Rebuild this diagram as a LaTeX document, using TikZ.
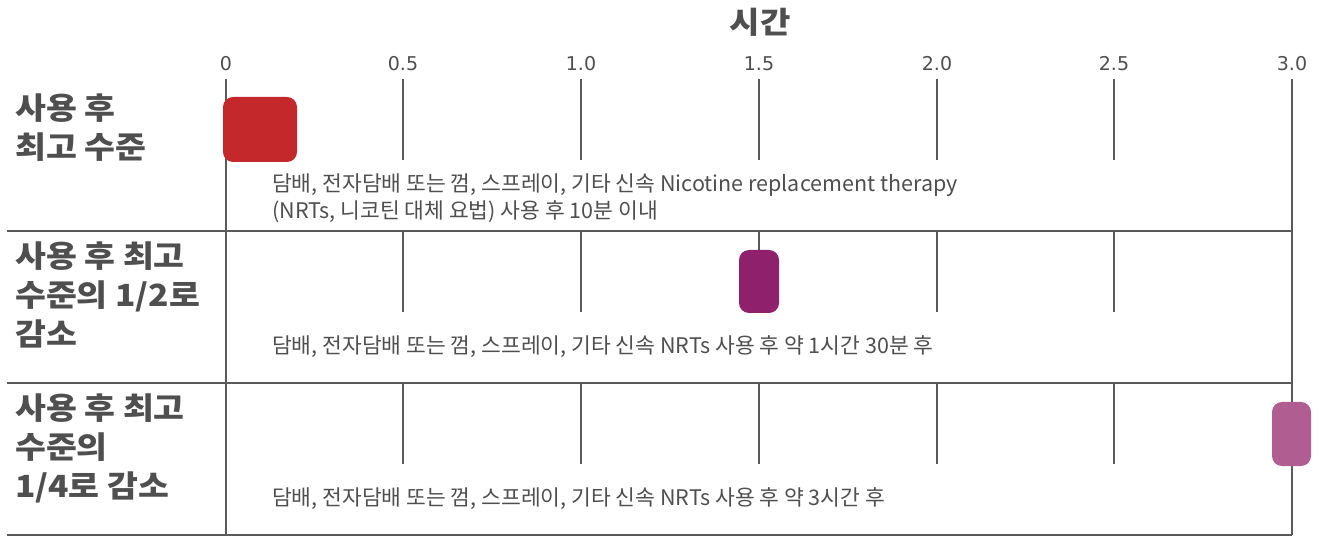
\documentclass[tikz,border=0pt]{standalone}
\usepackage{fontspec}
\setmainfont{Noto Sans CJK KR}
\newfontfamily\descfont{Noto Sans CJK KR}
\newfontfamily\labelfont{Noto Sans CJK KR}[FakeStretch=1.1]
\newfontfamily\numfont{DejaVu Sans}
\definecolor{gridgray}{HTML}{5A5A5A}
\definecolor{txtgray}{HTML}{4F4F4F}
\definecolor{peakred}{HTML}{C4282A}
\definecolor{halfpurple}{HTML}{8E206C}
\definecolor{quarterpink}{HTML}{B05E91}
\tikzset{
  gridline/.style={draw=gridgray, line width=2.6pt},
  ticklabel/.style={font=\numfont\fontsize{19}{22}\selectfont, text=txtgray, inner sep=0pt},
  rowlabel/.style={font=\labelfont\bfseries\fontsize{30.5}{39}\selectfont, text=txtgray, anchor=west, align=left, inner sep=0pt},
  desc/.style={font=\descfont\fontsize{21.5}{27}\selectfont, text=txtgray, anchor=west, align=left, inner sep=0pt},
  level/.style={rounded corners=10pt, inner sep=0pt},
}
\begin{document}
\begin{tikzpicture}[x=1pt,y=-1pt]
\useasboundingbox[fill=white] (0,0) rectangle (1318,537);
% short tick lines
\foreach \x in {403,581,759,937,1114}{
  \draw[gridline] (\x,79) -- (\x,160);
  \draw[gridline] (\x,231) -- (\x,312);
  \draw[gridline] (\x,383) -- (\x,464);
}
\draw[gridline] (226,79) -- (226,535);
\draw[gridline] (1292,79) -- (1292,535);
\draw[gridline] (7,231) -- (1292,231);
\draw[gridline] (7,383) -- (1292,383);
\draw[gridline] (7,535) -- (1292,535);
% title and tick labels
\node[font=\labelfont\bfseries\fontsize{30}{34}\selectfont, text=txtgray] (title) at (760,22) {시간};
\foreach \n/\x/\t in {a/226/0,b/403/0.5,c/581/1.0,d/759/1.5,e/937/2.0,f/1114/2.5,g/1292/3.0}{
  \node[ticklabel] (tick\n) at (\x,64) {\t};
}
% level markers
\fill[level, peakred] (223,97) rectangle (297,162);
\fill[level, halfpurple] (739,250) rectangle (779,313);
\fill[level, quarterpink] (1272,402) rectangle (1311,466);
% row labels
\node[rowlabel] (row1) at (15,128) {사용 후\\최고 수준};
\node[rowlabel] (row2) at (15,295) {사용 후 최고\\수준의 1/2로\\감소};
\node[rowlabel] (row3) at (15,448) {사용 후 최고\\수준의\\1/4로 감소};
% descriptions
\node[desc] (desc1) at (272,198.5) {담배, 전자담배 또는 껌, 스프레이, 기타 신속 Nicotine replacement therapy\\(NRTs, 니코틴 대체 요법) 사용 후 10분 이내};
\node[desc] (desc2) at (272,347) {담배, 전자담배 또는 껌, 스프레이, 기타 신속 NRTs 사용 후 약 1시간 30분 후};
\node[desc] (desc3) at (272,499) {담배, 전자담배 또는 껌, 스프레이, 기타 신속 NRTs 사용 후 약 3시간 후};
\end{tikzpicture}
\end{document}
